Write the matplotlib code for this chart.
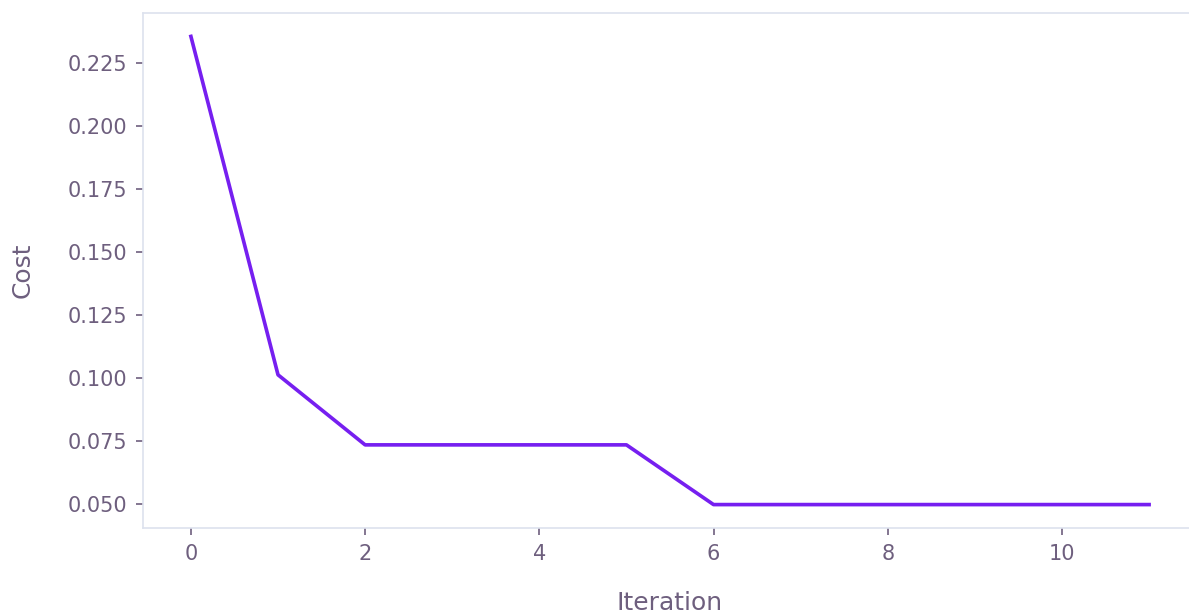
import matplotlib
matplotlib.use("Agg")
import matplotlib.pyplot as plt

iterations = [0, 1, 2, 3, 4, 5, 6, 7, 8, 9, 10, 11]
cost = [0.2355, 0.1012, 0.0734, 0.0734, 0.0734, 0.0734,
        0.0497, 0.0497, 0.0497, 0.0497, 0.0497, 0.0497]

text_color = "#6e5f7e"
spine_color = "#dde2ee"
line_color = "#761ff0"

fig = plt.figure(figsize=(1189 / 150, 616 / 150), dpi=150)
ax = fig.add_axes([143 / 1189, 88 / 616, (1197 - 143) / 1189, (528 - 13) / 616])

ax.plot(iterations, cost, color=line_color, linewidth=1.75)

ax.set_xticks([0, 2, 4, 6, 8, 10])
ax.set_yticks([0.05, 0.075, 0.1, 0.125, 0.15, 0.175, 0.2, 0.225])
ax.yaxis.set_major_formatter(matplotlib.ticker.FormatStrFormatter("%.3f"))

for side in ("top", "bottom", "left"):
    ax.spines[side].set_color(spine_color)
    ax.spines[side].set_linewidth(0.8)
ax.spines["right"].set_visible(False)

ax.tick_params(axis="both", colors=text_color, labelsize=10, length=3.5,
               width=0.8, pad=4)
ax.set_xlabel("Iteration", fontsize=12, color=text_color, labelpad=13)
ax.set_ylabel("Cost", fontsize=12, color=text_color, labelpad=16)

fig.savefig("out.png", dpi=150)
